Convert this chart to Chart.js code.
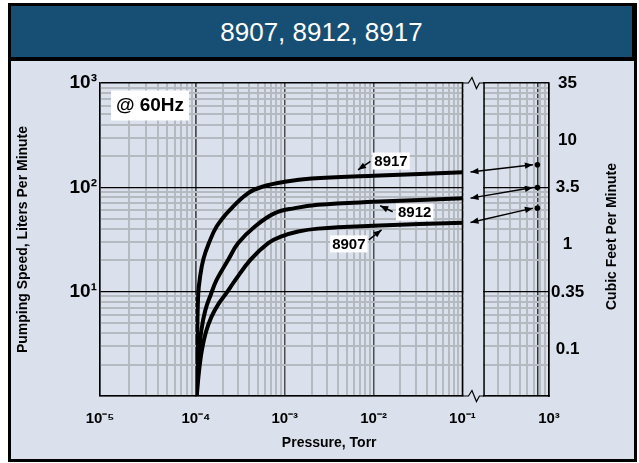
<!DOCTYPE html>
<html>
<head>
<meta charset="utf-8">
<title>8907, 8912, 8917</title>
<script src="https://cdn.jsdelivr.net/npm/chart.js@4.4.1/dist/chart.umd.min.js"></script>
<style>
  body { margin: 0; background: #fff; font-family: "Liberation Sans", Arial, sans-serif; }
  #frame { position: absolute; left: 8px; top: 3px; width: 629px; height: 459px; background: #000; }
  #banner { position: absolute; left: 11px; top: 6px; width: 621px; height: 51px; background: #174e74;
            color: #fff; font-size: 26px; text-align: center; line-height: 53px; }
  #panel { position: absolute; left: 11px; top: 61px; width: 623px; height: 398px; background: #dbe1ec; }
  canvas { display: block; }
</style>
</head>
<body>
<div id="frame"></div>
<div id="banner">8907, 8912, 8917</div>
<div id="panel"><canvas id="speedChart" width="623" height="398"></canvas></div>
<script>
// pumping speed (L/min) against inlet pressure (Torr)
const torr8917 = [1.008e-4, 1.032e-4, 1.061e-4, 1.109e-4, 1.208e-4, 1.40e-4, 1.709e-4, 2.413e-4, 3.875e-4, 5.715e-4, 1.0e-3, 2.0e-3, 9.87e-3, 0.111];
const lpm8917  = [1.0, 3.45, 9.46, 13.55, 20.2, 29.2, 42.1, 60.9, 88.1, 101.9, 113.0, 121.3, 129, 140];

const torr8912 = [1.016e-4, 1.067e-4, 1.153e-4, 1.279e-4, 1.475e-4, 1.709e-4, 2.309e-4, 2.991e-4, 4.61e-4, 7.737e-4, 1.299e-3, 2.375e-3, 9.87e-3, 0.111];
const lpm8912  = [1.0, 2.22, 4.30, 6.69, 9.46, 12.97, 20.2, 29.2, 42.1, 56.6, 63.2, 68.0, 72.6, 78.8];

const torr8907 = [1.021e-4, 1.081e-4, 1.168e-4, 1.296e-4, 1.494e-4, 1.768e-4, 2.159e-4, 2.782e-4, 4.102e-4, 6.508e-4, 9.205e-4, 1.415e-3, 2.375e-3, 9.87e-3, 0.111];
const lpm8907  = [1.0, 1.70, 2.76, 4.11, 5.73, 7.47, 9.46, 12.97, 20.2, 29.2, 33.8, 37.7, 40.2, 42.8, 46.0];

// speed at atmosphere, same model order
const models = ['8917', '8912', '8907'];
const torrAtm = [760, 760, 760];
const lpmAtm = [164.6, 99.7, 63.2];

// right hand axis, cubic feet per minute
const cfmTicks = [0.1, 0.35, 1, 3.5, 10, 35];
const LPM_PER_CFM = 28.3168;

const PANEL_BG = '#dbe1ec';
const MINOR = '#b5b9c0';
const FONT = '"Liberation Sans", Arial, sans-serif';
Chart.defaults.font.family = FONT;
Chart.defaults.color = '#000';

const curves = [[torr8917, lpm8917], [torr8912, lpm8912], [torr8907, lpm8907]];

// label boxes, placed in data units; arrow ends in px from the box centre
const curveLabels = [
    { text: '8917', torr: 1.57e-2, lpm: 178.6, tail: [-20.6, 0.4], tip: [-33, 8.7] },
    { text: '8912', torr: 2.9e-2, lpm: 57.9, tail: [-22, -0.3], tip: [-34.5, -6.3] },
    { text: '8907', torr: 5.26e-3, lpm: 28.7, tail: [20, -4], tip: [32.7, -14] }
];

function logGridValues(min, max) {
    const vals = [];
    for (let n = Math.floor(Math.log10(min)); n <= Math.ceil(Math.log10(max)); n++) {
        for (let k = 1; k <= 9; k++) {
            const v = k * Math.pow(10, n);
            if (v >= min * 0.999999 && v <= max * 1.000001) vals.push(v);
        }
    }
    return vals;
}
const isDecade = v => Math.abs(Math.log10(v) - Math.round(Math.log10(v))) < 1e-6;
const SUP = { '-': '⁻', '0': '⁰', '1': '¹', '2': '²', '3': '³', '4': '⁴', '5': '⁵', '6': '⁶', '7': '⁷', '8': '⁸', '9': '⁹' };
const powLabel = v => '10' + String(Math.round(Math.log10(v))).split('').map(c => SUP[c]).join('');

function xGridColor(v) {
    if (v === 760) return '#333';
    if (isDecade(v)) return Math.abs(v - 0.1) < 1e-9 || v > 500 ? '#000' : '#4d4d4d';
    return MINOR;
}

// one piece of the broken pressure axis
function pressureAxis(min, max, weight, showLabel, extra) {
    return {
        type: 'logarithmic', position: 'bottom', stack: 'pressure', stackWeight: weight,
        min: min, max: max,
        afterBuildTicks: s => {
            s.ticks = logGridValues(min, max).concat(extra || []).sort((a, b) => a - b).map(v => ({ value: v }));
        },
        afterFit: s => { s.height = 63; },
        grid: {
            drawTicks: false,
            color: c => xGridColor(c.tick.value),
            lineWidth: c => (c.tick.value === 760 || isDecade(c.tick.value)) ? 1.5 : 2
        },
        border: { color: '#000', width: 1.5 },
        ticks: {
            autoSkip: false, maxRotation: 0, minRotation: 0, padding: 14,
            font: { size: 15, weight: 'bold' }, color: '#000',
            callback: v => (isDecade(v) && showLabel(v)) ? powLabel(v) : ''
        }
    };
}

const xA = pressureAxis(1e-5, 1e-4, 96, v => v < 5e-5);
const xB = pressureAxis(1e-4, 1e-1, 266.7, () => true);
xB.title = { display: true, text: 'Pressure, Torr', font: { size: 14, weight: 'bold' }, color: '#000', padding: { top: 0, bottom: 7 } };
const xR = pressureAxis(215, 1000, 65, v => v > 500, [760]);

const datasets = curves.map((c, i) => ({
    label: models[i],
    data: c[0].map((t, j) => ({ x: t, y: c[1][j] })),
    xAxisID: 'xB', yAxisID: 'y',
    borderColor: '#000', borderWidth: 4, borderCapStyle: 'butt', borderJoinStyle: 'round',
    pointRadius: 0, fill: false, tension: 0.4
}));
datasets.push({
    label: 'atmosphere',
    data: torrAtm.map((t, i) => ({ x: t, y: lpmAtm[i] })),
    xAxisID: 'xR', yAxisID: 'y', showLine: false,
    pointRadius: 2.8, pointBackgroundColor: '#000', pointBorderColor: '#000', pointBorderWidth: 0
});

function arrowHead(ctx, x0, y0, x, y) {
    const a = Math.atan2(y - y0, x - x0), len = 8, half = 3.2;
    ctx.beginPath();
    ctx.moveTo(x, y);
    ctx.lineTo(x - len * Math.cos(a) + half * Math.sin(a), y - len * Math.sin(a) - half * Math.cos(a));
    ctx.lineTo(x - len * Math.cos(a) - half * Math.sin(a), y - len * Math.sin(a) + half * Math.cos(a));
    ctx.closePath();
    ctx.fill();
}

const decorations = {
    id: 'decorations',
    beforeDatasetsDraw(chart) {
        const { ctx, chartArea: a, scales } = chart;
        const L = scales.xB.right, R = scales.xR.left;
        ctx.save();
        // axis break
        ctx.fillStyle = PANEL_BG;
        ctx.fillRect(L + 1, a.top - 3, R - L - 2, a.bottom - a.top + 6);
        ctx.strokeStyle = '#000';
        ctx.lineWidth = 1.5;
        ctx.beginPath();
        ctx.moveTo(L, a.top); ctx.lineTo(L, a.bottom);
        ctx.moveTo(R, a.top); ctx.lineTo(R, a.bottom);
        ctx.stroke();
        ctx.lineWidth = 1.2;
        [a.top, a.bottom].forEach(y => {
            ctx.beginPath();
            ctx.moveTo(L, y); ctx.lineTo(L + 6, y); ctx.lineTo(L + 9.5, y - 5.5);
            ctx.lineTo(L + 14, y + 5.5); ctx.lineTo(L + 17, y); ctx.lineTo(R, y);
            ctx.stroke();
        });
        // frequency note
        ctx.fillStyle = '#fff';
        ctx.fillRect(a.left + 11, a.top + 7.5, 78, 30);
        ctx.fillStyle = '#000';
        ctx.font = 'bold 19px ' + FONT;
        ctx.textAlign = 'center';
        ctx.textBaseline = 'middle';
        ctx.fillText('@ 60Hz', a.left + 50, a.top + 23);
        ctx.restore();
    },
    afterDatasetsDraw(chart) {
        const { ctx, chartArea: a, scales } = chart;
        const y = scales.y;
        ctx.save();
        ctx.strokeStyle = '#000';
        ctx.fillStyle = '#000';
        ctx.lineWidth = 1.5;
        // curve end <-> speed at atmosphere
        curves.forEach((c, i) => {
            const n = c[0].length - 1;
            const x1 = scales.xB.getPixelForValue(c[0][n]) + 4, y1 = y.getPixelForValue(c[1][n]);
            const x2 = scales.xR.getPixelForValue(torrAtm[i]) - 4.5, y2 = y.getPixelForValue(lpmAtm[i]);
            ctx.beginPath(); ctx.moveTo(x1, y1); ctx.lineTo(x2, y2); ctx.stroke();
            arrowHead(ctx, x2, y2, x1, y1);
            arrowHead(ctx, x1, y1, x2, y2);
        });
        // model labels
        ctx.font = 'bold 15px ' + FONT;
        ctx.textAlign = 'center';
        ctx.textBaseline = 'middle';
        curveLabels.forEach(lb => {
            const cx = scales.xB.getPixelForValue(lb.torr), cy = y.getPixelForValue(lb.lpm);
            const w = ctx.measureText(lb.text).width + 4, h = 17;
            ctx.fillStyle = '#fff';
            ctx.fillRect(cx - w / 2, cy - h / 2, w, h);
            ctx.fillStyle = '#000';
            ctx.fillText(lb.text, cx, cy + 1);
            const tx = cx + lb.tail[0], ty = cy + lb.tail[1], px = cx + lb.tip[0], py = cy + lb.tip[1];
            ctx.beginPath(); ctx.moveTo(tx, ty); ctx.lineTo(px, py); ctx.stroke();
            arrowHead(ctx, tx, ty, px, py);
        });
        // right axis title, reads bottom to top
        ctx.translate(chart.width - 21.5, (a.top + a.bottom) / 2 - 3);
        ctx.rotate(-Math.PI / 2);
        ctx.font = 'bold 14px ' + FONT;
        ctx.fillText('Cubic Feet Per Minute', 0, 0);
        ctx.restore();
    }
};

new Chart(document.getElementById('speedChart'), {
    type: 'line',
    data: { datasets: datasets },
    plugins: [decorations],
    options: {
        responsive: false,
        animation: false,
        layout: { padding: { top: 22, left: 0, right: 0, bottom: 0 } },
        plugins: { legend: { display: false }, tooltip: { enabled: false } },
        scales: {
            xA: xA,
            xB: xB,
            xGap: {
                type: 'linear', position: 'bottom', stack: 'pressure', stackWeight: 21.6, min: 0, max: 1,
                afterFit: s => { s.height = 63; },
                grid: { display: false, drawTicks: false }, border: { display: false }, ticks: { display: false }
            },
            xR: xR,
            y: {
                type: 'logarithmic', position: 'left', min: 1, max: 1000,
                afterBuildTicks: s => { s.ticks = logGridValues(1, 1000).map(v => ({ value: v })); },
                afterFit: s => { s.width = 89; },
                grid: {
                    drawTicks: false,
                    color: c => isDecade(c.tick.value) ? '#000' : MINOR,
                    lineWidth: c => c.tick.value === 1000 ? 1.5 : (isDecade(c.tick.value) ? 1.2 : 2)
                },
                border: { color: '#000', width: 1.5 },
                ticks: {
                    autoSkip: false, padding: 3, font: { size: 19, weight: 'bold' }, color: '#000',
                    callback: v => (isDecade(v) && v > 1) ? powLabel(v) : ''
                },
                title: {
                    display: true, text: 'Pumping Speed, Liters Per Minute',
                    font: { size: 14, weight: 'bold' }, color: '#000', padding: { top: 4, bottom: 0 }
                }
            },
            yR: {
                type: 'logarithmic', position: 'right',
                min: 1 / LPM_PER_CFM, max: 1000 / LPM_PER_CFM,
                afterBuildTicks: s => { s.ticks = cfmTicks.map(v => ({ value: v })); },
                afterFit: s => { s.width = 85; },
                grid: { display: false, drawTicks: false },
                border: { color: '#000', width: 1.5 },
                ticks: {
                    autoSkip: false, padding: 2, crossAlign: 'center', font: { size: 17, weight: 'bold' }, color: '#000',
                    callback: v => String(v)
                }
            }
        }
    }
});
</script>
</body>
</html>
